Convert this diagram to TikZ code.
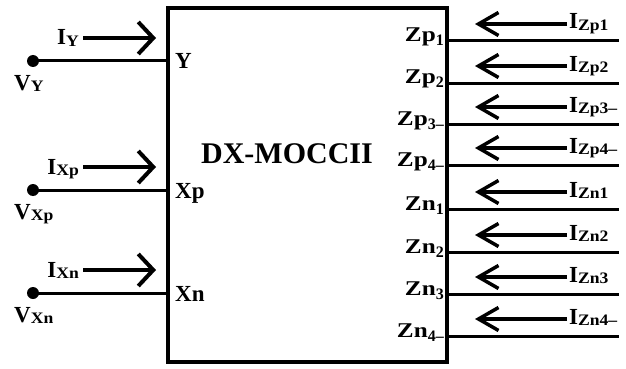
\documentclass[tikz,border=0pt]{standalone}
\usepackage{fontspec}
\setmainfont{Liberation Serif}
\usepackage{graphicx}
\usetikzlibrary{arrows.meta}
\newcommand\fs[1]{\fontsize{#1}{#1}\selectfont}
\newcommand\curlbl[2]{{\fs{23}#1}\raisebox{-1.5pt}{\scalebox{1.1}[1]{\fs{16}#2}}}
\newcommand\zlbl[2]{\scalebox{1.2}[1]{\fs{21}#1}\raisebox{-4pt}{\fs{16}#2}}
\begin{document}
\begin{tikzpicture}[x=1pt,y=-1pt,font=\bfseries,
  wire/.style={line width=3pt},
  arrL/.style={line width=4pt,-{Straight Barb[length=15pt,width=32pt]}},
  arrR/.style={line width=3.5pt,-{Straight Barb[length=20pt,width=23pt]}},
  dot/.style={circle,fill,inner sep=0pt,minimum size=12pt},
  lab/.style={inner sep=0pt}]
\useasboundingbox (0,0) rectangle (626,369);
\node[draw,line width=4pt,minimum width=279pt,minimum height=354pt,inner sep=0pt] (box) at (307.5,185) {};
\node[lab] (title) at (287,154) {\fs{30}DX-MOCCII};
% left ports
\foreach \t/\y in {Y/61,Xp/190,Xn/293}{
  \node[dot] (d\t) at (33,\y) {};
  \coordinate (p\t) at (168,\y);
  \draw[wire] (d\t.center) -- (p\t);
  \node[lab,anchor=base west] (t\t) at (175,\y+8) {\fs{23}\t};
  \node[lab,anchor=base east] (i\t) at (79,\y-23+7) {\curlbl{I}{\t}};
  \node[lab,anchor=base west] (v\t) at (14,\y+29) {\curlbl{V}{\t}};
  \coordinate (la\t) at (83,\y-23);
  \coordinate (lb\t) at (156,\y-23);
  \draw[arrL] (la\t) -- (lb\t);
}
% right ports
\foreach \m/\s/\y [count=\i] in {Zp/1/41,Zp/2/83,Zp/3--/124,Zp/4--/165,Zn/1/209,Zn/2/252,Zn/3/294,Zn/4--/336}{
  \coordinate (q\i) at (447,\y);
  \coordinate (e\i) at (619,\y);
  \draw[wire] (q\i) -- (e\i);
  \node[lab,anchor=base east] (z\i) at (444,\y+1) {\zlbl{\m}{\s}};
  \node[lab,anchor=base west] (iz\i) at (569,\y-12) {\curlbl{I}{\m\s}};
  \coordinate (ra\i) at (567,\y-17);
  \coordinate (rb\i) at (475,\y-17);
  \draw[arrR] (ra\i) -- (rb\i);
}
\end{tikzpicture}
\end{document}
